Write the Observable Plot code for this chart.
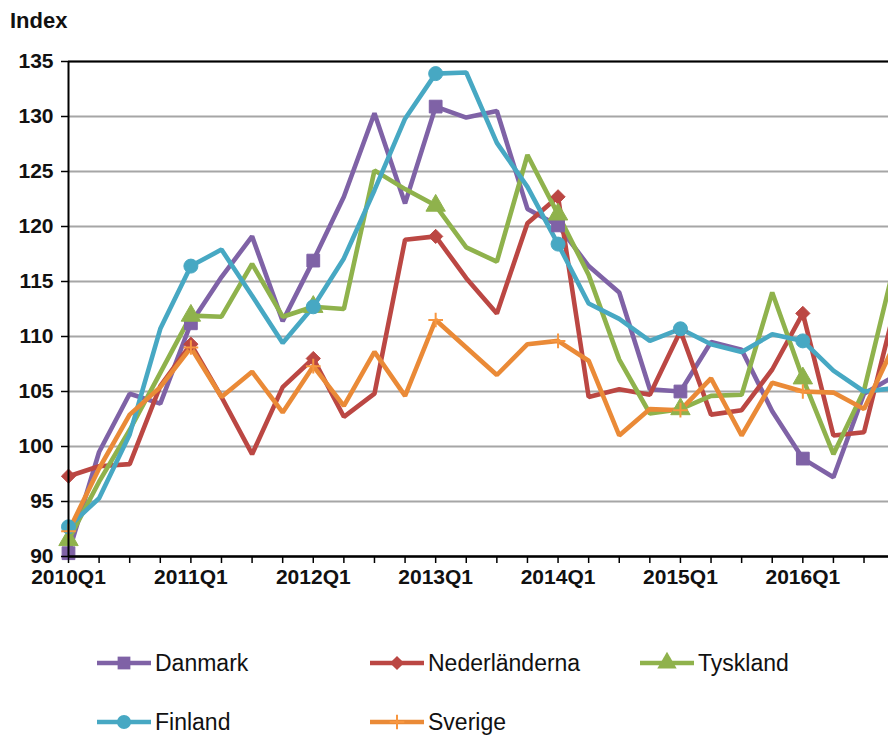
<!DOCTYPE html>
<html><head><meta charset="utf-8">
<script src="https://cdn.jsdelivr.net/npm/d3@7"></script>
<script src="https://cdn.jsdelivr.net/npm/@observablehq/plot@0.6"></script>
<style>
body{margin:0;background:#fff;font-family:"Liberation Sans",Arial,sans-serif;}
#wrap{position:relative;width:888px;height:737px;overflow:hidden;background:#fff}
#title{position:absolute;left:10px;top:8px;font-weight:bold;font-size:22px;color:#111}
#chart{position:absolute;left:0;top:0}
#legend{position:absolute;left:0;top:620px}
</style></head><body>
<div id="wrap"><div id="chart"></div><div id="title">Index</div><div id="legend"></div></div>
<script>
const quarters = ["2010Q1","2010Q2","2010Q3","2010Q4","2011Q1","2011Q2","2011Q3","2011Q4",
  "2012Q1","2012Q2","2012Q3","2012Q4","2013Q1","2013Q2","2013Q3","2013Q4",
  "2014Q1","2014Q2","2014Q3","2014Q4","2015Q1","2015Q2","2015Q3","2015Q4",
  "2016Q1","2016Q2","2016Q3","2016Q4"];
const danmark = [90.3, 99.5, 104.8, 103.9, 111.2, 115.4, 119.1, 111.4, 116.9, 122.7, 130.3, 122.1, 130.9, 129.9, 130.5, 121.6, 120.1, 116.4, 114.0, 105.2, 105.0, 109.5, 108.8, 103.2, 98.9, 97.2, 104.8, 106.4];
const nederlanderna = [97.3, 98.2, 98.4, 105.5, 109.3, 104.5, 99.3, 105.4, 108.0, 102.7, 104.8, 118.8, 119.1, 115.3, 112.1, 120.3, 122.7, 104.5, 105.2, 104.7, 110.5, 102.9, 103.3, 107.0, 112.1, 101.0, 101.3, 112.5];
const tyskland = [91.5, 96.8, 101.5, 106.7, 111.9, 111.8, 116.6, 111.8, 112.7, 112.5, 125.1, 123.4, 121.9, 118.1, 116.8, 126.5, 121.1, 115.6, 107.9, 103.0, 103.4, 104.6, 104.7, 114.0, 106.2, 99.3, 105.1, 116.6];
const finland = [92.7, 95.3, 101.1, 110.7, 116.4, 117.9, 113.7, 109.4, 112.7, 117.1, 123.3, 129.8, 133.9, 134.0, 127.6, 123.6, 118.4, 113.0, 111.6, 109.6, 110.7, 109.3, 108.6, 110.2, 109.6, 106.9, 105.0, 105.3];
const sverige = [92.3, 98.0, 102.9, 105.4, 109.0, 104.5, 106.8, 103.1, 107.3, 103.7, 108.6, 104.6, 111.5, 109.0, 106.5, 109.3, 109.6, 107.8, 101.0, 103.4, 103.3, 106.2, 101.0, 105.8, 105.0, 104.9, 103.4, 109.3];
const yTicks = [90, 95, 100, 105, 110, 115, 120, 125, 130, 135];

const series = [
  {name: "Danmark", values: danmark, color: "#7f62a6", symbol: "square", r: 7.2, filled: true},
  {name: "Nederländerna", values: nederlanderna, color: "#bb4743", symbol: "diamond2", r: 6.4, filled: true},
  {name: "Tyskland", values: tyskland, color: "#8fb24c", symbol: "triangle", r: 7.2, filled: true},
  {name: "Finland", values: finland, color: "#47a8c3", symbol: "circle", r: 7, filled: true},
  {name: "Sverige", values: sverige, color: "#ea8a37", symbol: "plus", r: 4.8, filled: false, markColor: "#f7963f"}
];

const rows = series.flatMap(s => s.values.map((v, i) => ({i, q: quarters[i], series: s.name, value: v})));

const marks = [
  Plot.gridY(yTicks, {stroke: "#a6a6a6", strokeOpacity: 1, strokeWidth: 2}),
  Plot.ruleY([135], {stroke: "#000", strokeWidth: 2}),
];
for (const s of series) {
  const data = rows.filter(d => d.series === s.name);
  marks.push(Plot.line(data, {x: "i", y: "value", stroke: s.color, strokeWidth: 4.6, strokeLinejoin: "miter", clip: true}));
}
for (const s of series) {
  const data = rows.filter(d => d.series === s.name && d.i % 4 === 0);
  if (s.filled) {
    marks.push(Plot.dot(data, {x: "i", y: "value", symbol: () => s.symbol, r: s.r, fill: s.color, stroke: s.color, strokeWidth: 1}));
  } else {
    marks.push(Plot.dot(data, {x: "i", y: "value", symbol: () => s.symbol, r: s.r, fill: "none", stroke: s.markColor, strokeWidth: 2}));
  }
}
marks.push(
  Plot.axisY({ticks: yTicks, tickSize: 7, tickPadding: 8, stroke: "#000", strokeWidth: 1.5, label: null, fontSize: 21, fontWeight: "bold"}),
  Plot.axisX({ticks: d3.range(0, 27), tickFormat: i => i % 4 === 0 ? quarters[i] : "", tickSize: 7, tickPadding: 6, stroke: "#000", strokeWidth: 1.5, label: null, fontSize: 21, fontWeight: "bold"}),
  Plot.ruleX([0], {stroke: "#000", strokeWidth: 2}),
  Plot.ruleY([90], {stroke: "#000", strokeWidth: 2.5})
);

const chart = Plot.plot({
  width: 888,
  height: 600,
  marginLeft: 68,
  marginRight: 0,
  marginTop: 61,
  marginBottom: 44,
  x: {type: "linear", domain: [0, 26.8]},
  y: {domain: [90, 135]},
  style: {fontFamily: "'Liberation Sans', Arial, sans-serif", color: "#111", background: "#fff", overflow: "visible"},
  marks
});
document.getElementById("chart").appendChild(chart);

// Legend
const pos = [[97, 43], [370, 43], [640, 43], [97, 102], [370, 102]];
const ns = "http://www.w3.org/2000/svg";
const lsvg = document.createElementNS(ns, "svg");
lsvg.setAttribute("width", 888); lsvg.setAttribute("height", 117);
series.forEach((s, k) => {
  const [x, y] = pos[k];
  const g = document.createElementNS(ns, "g");
  const ln = document.createElementNS(ns, "line");
  ln.setAttribute("x1", x); ln.setAttribute("x2", x + 54); ln.setAttribute("y1", y); ln.setAttribute("y2", y);
  ln.setAttribute("stroke", s.color); ln.setAttribute("stroke-width", 4.6);
  g.appendChild(ln);
  const sym = {square: d3.symbolSquare, diamond2: d3.symbolDiamond2, triangle: d3.symbolTriangle, circle: d3.symbolCircle, plus: d3.symbolPlus}[s.symbol];
  const p = document.createElementNS(ns, "path");
  p.setAttribute("d", d3.symbol(sym, Math.PI * s.r * s.r)());
  p.setAttribute("transform", `translate(${x + 27},${y})`);
  if (s.filled) { p.setAttribute("fill", s.color); }
  else { p.setAttribute("fill", "none"); p.setAttribute("stroke", s.markColor); p.setAttribute("stroke-width", 2); }
  g.appendChild(p);
  const t = document.createElementNS(ns, "text");
  t.setAttribute("x", x + 58); t.setAttribute("y", y); t.setAttribute("dy", "0.35em");
  t.setAttribute("font-size", 23); t.setAttribute("fill", "#111");
  t.setAttribute("font-family", "'Liberation Sans', Arial, sans-serif");
  t.textContent = s.name;
  g.appendChild(t);
  lsvg.appendChild(g);
});
document.getElementById("legend").appendChild(lsvg);
</script>
</body></html>
